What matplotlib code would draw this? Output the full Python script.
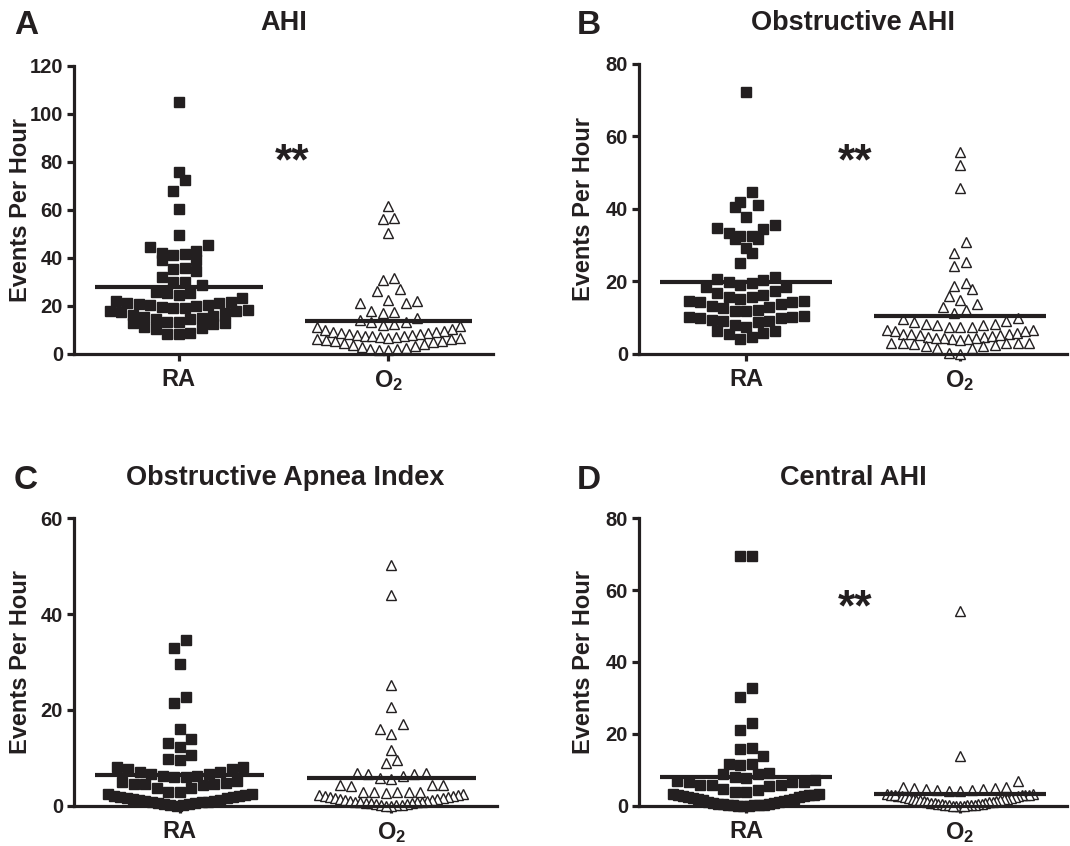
import matplotlib

matplotlib.use("Agg")
import matplotlib.pyplot as plt  # noqa: E402
import numpy as np  # noqa: E402

plt.rcParams["font.family"] = ["Liberation Sans", "DejaVu Sans"]
plt.rcParams["font.weight"] = "bold"
plt.rcParams["mathtext.fontset"] = "custom"
plt.rcParams["mathtext.rm"] = "Liberation Sans:bold"
plt.rcParams["mathtext.bf"] = "Liberation Sans:bold"

INK = "#231f20"

groups = ["RA", r"$\mathbf{O_2}$"]
titles = ["AHI", "Obstructive AHI", "Obstructive Apnea Index", "Central AHI"]
letters = ["A", "B", "C", "D"]
ymax = [120, 80, 60, 80]
stars = [(0.54, 79.5), (0.51, 52.6), None, (0.51, 54.8)]

# A: AHI
ahi_ra = [105, 76, 72.5, 67.9, 60.4, 49.6,
          42.9, 44.7, 45.4, 41.5, 39.2, 39.2, 41.3, 42.2,
          35.3, 34.6, 35.7, 32.2, 30.1, 30.1, 28.75, 25.3, 25.3, 26.0,
          24.6, 22.1, 21.1, 20.8, 20.0, 19.7, 20.4, 20.4, 21.1, 21.8, 23.2,
          19.0, 18.0, 17.6, 16.25, 15.3, 14.4, 14.4, 14.8, 15.8, 16.9, 18.0, 18.3, 19.3,
          13.5, 13.1, 12.5, 10.7, 8.9, 8.3, 8.3, 10.3, 11.4, 12.8, 13.5]
ahi_o2 = [61.8, 56.5, 56.3, 50.3, 31.5, 30.8, 26.9, 26.4, 22.5, 22.2, 21.1, 21.1,
          18.0, 17.6, 17.2, 15.1, 14.2, 13.5, 13.5,
          12.3, 11.8, 12.0, 11.2, 10.4,
          9.8, 9.5, 9.3, 9.0, 8.8, 8.6, 8.4, 8.2, 8.0, 7.8, 7.6, 7.5, 7.3, 7.2,
          7.0, 6.8, 6.5, 6.3, 6.1, 5.9, 5.6, 5.3, 5.0, 4.6, 4.2, 3.8, 3.4, 3.0,
          2.6, 2.2, 1.8, 1.5, 2.0]

# B: obstructive AHI
oahi_ra = [72.4,
           44.8, 41.1, 42.0, 40.6, 37.9, 35.6, 34.4, 34.8, 32.6, 31.6, 33.3, 31.6,
           32.6, 27.9, 29.1, 25.0,
           21.1, 20.4, 19.5, 19.9, 20.8, 19.0, 18.4, 18.6,
           16.9, 15.8, 15.6, 16.3, 17.4,
           14.7, 14.3, 13.8, 12.9, 12.1, 11.9, 11.9, 12.6, 13.1, 14.3, 14.7, 15.3,
           10.5, 10.0, 9.8, 9.1, 8.9, 8.0, 9.1, 9.4, 10.1, 10.1,
           7.5, 6.2, 5.5, 4.1, 4.6, 5.7, 6.2]
oahi_o2 = [55.8, 52.0, 45.7, 30.8, 27.8, 25.3, 24.3, 19.7, 18.8, 17.8, 16.1, 14.9,
           13.8, 12.9, 12.1, 11.4,
           9.8, 9.6, 9.2, 8.9, 8.3, 8.3, 8.0, 8.0, 7.4, 7.4, 7.4,
           6.6, 6.5, 6.2, 5.6, 5.4, 5.1, 4.8, 4.6, 4.4, 4.2, 4.0, 3.8, 4.3, 4.5,
           4.9, 5.2, 5.5, 5.9, 6.3,
           3.1, 3.1, 3.0, 2.6, 2.2, 1.6, 0.0, 0.4, 1.6, 2.2, 2.8, 2.9, 3.1]

# C: obstructive apnea index
oai_ra = [34.5, 32.9, 29.6, 22.6, 21.5, 16.1, 14.0, 13.1, 12.2, 10.7, 9.8, 9.5,
          8.0, 7.6, 7.0, 6.6, 6.3, 6.1, 6.1, 6.3, 6.6, 7.0, 7.6, 8.2,
          5.2, 5.0, 4.8, 4.6, 4.6, 4.5, 4.3, 3.7, 3.7, 2.9, 2.9, 2.4, 2.4,
          2.2, 2.0, 2.1, 1.8, 1.9, 1.6, 1.5, 1.7, 1.2, 1.3, 1.0, 1.1, 0.8, 0.9,
          0.6, 0.5, 0.7, 0.3, 0.4, 0.2, 0.0, 0.1]
oai_o2 = [50.2, 43.9, 25.1, 20.6, 17.0, 15.0, 16.1, 11.6, 9.5, 8.9,
          6.9, 6.6, 6.2, 5.5, 5.9, 6.6, 6.9,
          4.3, 4.2, 4.3, 4.3,
          2.9, 2.8, 2.6, 2.8, 2.4, 2.9, 2.9,
          2.3, 2.1, 2.2, 1.9, 2.0, 1.8, 1.7, 1.6, 1.5, 1.4, 1.3, 1.2, 1.1, 1.0,
          0.9, 0.8, 0.8, 0.7, 0.6, 0.5, 0.5, 0.4, 0.3, 0.2, 0.2, 0.1, 0.0, 0.0]

# D: central AHI
cahi_ra = [69.6, 69.6, 32.9, 30.2, 23.1, 21.0, 15.9, 16.1, 13.8, 11.5, 11.7, 11.3,
           8.8, 8.9, 8.1, 7.8, 9.0,
           6.9, 6.5, 5.7, 5.7, 4.4, 3.9, 3.9, 4.6, 5.5, 5.7, 6.5, 6.6, 7.2,
           3.2, 3.1, 3.2, 3.0, 2.9, 2.8, 2.7, 2.5, 2.4, 2.2, 2.0, 1.8, 1.6, 1.5,
           1.3, 1.1, 1.0, 0.9, 0.7, 0.6, 0.5, 0.4, 0.3, 0.2, 0.1, 0.0, 0.0, 0.0,
           0.1, 0.2]
cahi_o2 = [54.2, 13.8, 6.9,
           5.1, 4.9, 4.8, 4.4, 4.2, 4.2, 4.3, 4.6, 4.9, 5.3,
           3.2, 3.1, 3.2, 3.0, 3.1, 2.9, 2.8, 2.9, 2.7, 2.6, 2.5, 2.4, 2.3, 2.2,
           2.0, 1.9, 1.8, 1.7, 1.6, 1.5, 1.4, 1.3, 1.2, 1.1, 1.0, 0.9, 0.8, 0.7,
           0.6, 0.5, 0.5, 0.4, 0.3, 0.3, 0.2, 0.1, 0.1, 0.0, 0.0, 0.0, 0.0]

panels = [(ahi_ra, ahi_o2), (oahi_ra, oahi_o2), (oai_ra, oai_o2), (cahi_ra, cahi_o2)]


def swarm(vals, bin_h, step, half_max):
    """Prism-like column scatter: rows of similar values, lowest in the middle."""
    vals = np.asarray(vals, float)
    order = np.argsort(vals, kind="stable")
    offs = np.zeros(len(vals))
    i = 0
    while i < len(order):
        start = vals[order[i]]
        j = i
        while j < len(order) and vals[order[j]] - start < bin_h:
            j += 1
        idx = order[i:j]
        n = len(idx)
        s = step if n == 1 else min(step, 2 * half_max / (n - 1))
        slots = (np.arange(n) - (n - 1) / 2) * s
        offs[idx] = slots[np.argsort(np.abs(slots), kind="stable")]
        i = j
    return offs


fig = plt.figure(figsize=(10.7, 8.46), dpi=100)
rects = [
    [0.0692, 0.5816, 0.3916, 0.3404],
    [0.5972, 0.5816, 0.4000, 0.3428],
    [0.0692, 0.0475, 0.3953, 0.3400],
    [0.5972, 0.0475, 0.4000, 0.3400],
]

for k, (rect, (ra, o2)) in enumerate(zip(rects, panels)):
    ax = fig.add_axes(rect)
    ax.set_xlim(-0.5, 1.5)
    ax.set_ylim(0, ymax[k])
    fig.canvas.draw()
    p0, p1 = ax.transData.transform([(0, 0), (1, 1)])
    px_x, px_y = p1 - p0
    bin_h = 12.0 / px_y
    step = 11.5 / px_x

    for g, (vals, mk, face) in enumerate([(ra, "s", INK), (o2, "^", "white")]):
        off = swarm(vals, bin_h, step, 0.34)
        ax.plot(g + off, vals, linestyle="none", marker=mk,
                markersize=6.6 if mk == "s" else 7.0,
                markerfacecolor=face, markeredgecolor=INK,
                markeredgewidth=1.0, clip_on=False, zorder=2)
        m = np.mean(vals)
        ax.plot([g - 0.4, g + 0.4], [m, m], color=INK, lw=3.0,
                solid_capstyle="butt", zorder=3, clip_on=False)

    for side in ("top", "right"):
        ax.spines[side].set_visible(False)
    for side in ("left", "bottom"):
        ax.spines[side].set_linewidth(2.3)
        ax.spines[side].set_color(INK)
    ax.set_yticks(np.arange(0, ymax[k] + 1, 20))
    ax.set_xticks([0, 1])
    ax.set_xticklabels(groups)
    ax.tick_params(axis="y", direction="out", length=5, width=2.3, color=INK,
                   labelsize=14.5, labelcolor=INK, pad=3)
    ax.tick_params(axis="x", direction="out", length=5, width=2.3, color=INK,
                   labelsize=17, labelcolor=INK, pad=5)
    for lab in ax.get_xticklabels() + ax.get_yticklabels():
        lab.set_fontweight("bold")
    ax.set_ylabel("Events Per Hour", fontsize=17, fontweight="bold", color=INK)
    ax.yaxis.label.set_verticalalignment("center")
    lab_x = (21 if k % 2 == 0 else 584) - (rect[0] * 1070)
    ax.yaxis.set_label_coords(lab_x / (rect[2] * 1070), 0.5)

    if stars[k] is not None:
        sx, sy = stars[k]
        ax.text(sx, sy, "**", fontsize=32, fontweight="bold", color=INK,
                ha="center", va="center")

    cx = rect[0] + rect[2] / 2
    ty = 0.973 if k < 2 else 1 - 478 / 846
    fig.text(cx, ty, titles[k], fontsize=19.5, fontweight="bold", color=INK,
             ha="center", va="center")
    lx = 14 / 1070 if k % 2 == 0 else 577 / 1070
    ly = 1 - 25 / 846 if k < 2 else 1 - 480 / 846
    fig.text(lx, ly, letters[k], fontsize=24, fontweight="bold", color=INK,
             ha="left", va="center")

fig.savefig("out.png", dpi=100)
